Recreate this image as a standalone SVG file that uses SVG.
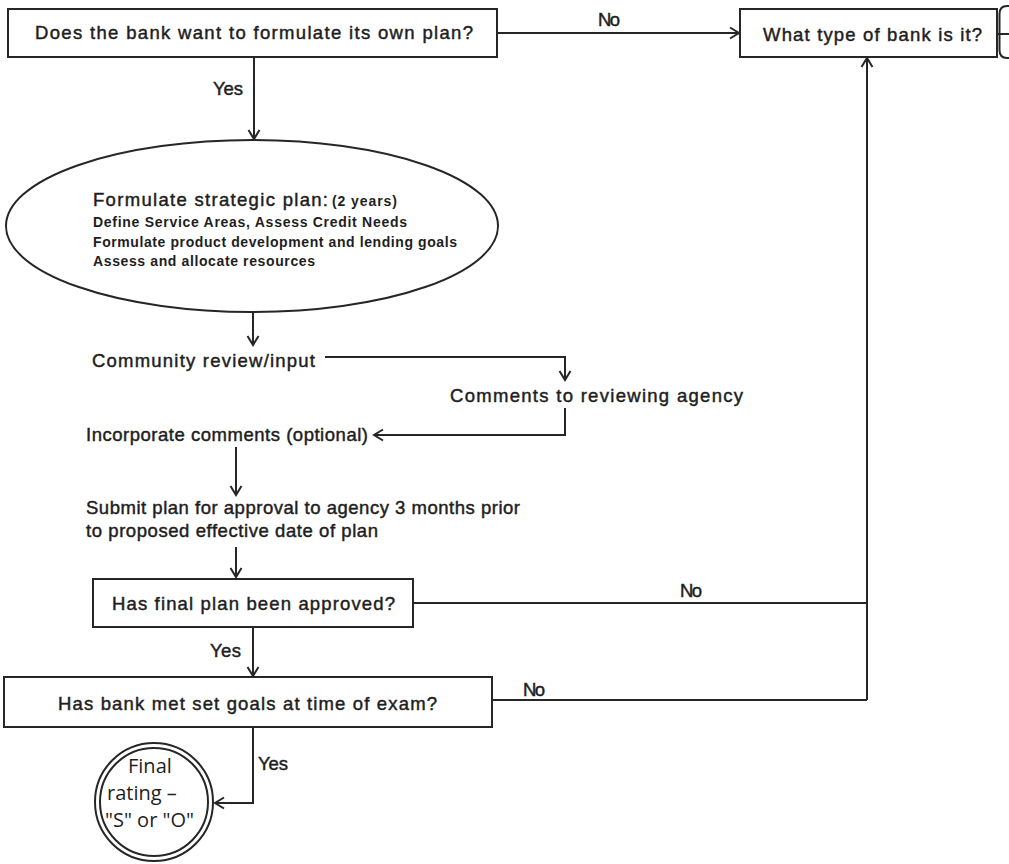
<svg xmlns="http://www.w3.org/2000/svg" width="1009" height="864" viewBox="0 0 1009 864">
  <style>
    .box { fill: #ffffff; stroke: #262626; stroke-width: 2; }
    .ln { fill: none; stroke: #262626; stroke-width: 2; }
    .arr { fill: none; stroke: #262626; stroke-width: 2; marker-end: url(#head); }
    .t { font-family: "Liberation Sans", Arial, sans-serif; font-size: 18.5px; fill: #1e1e1e; stroke: #1e1e1e; stroke-width: 0.45px; }
    .tb { font-family: "Liberation Sans", Arial, sans-serif; font-size: 14px; font-weight: bold; fill: #1e1e1e; }
    .tc { font-family: "Open Sans", "Liberation Sans", sans-serif; font-size: 20px; fill: #1e1e1e; }
  </style>
  <defs>
    <marker id="head" viewBox="-11 -7 13 14" refX="0" refY="0" markerWidth="13" markerHeight="14" markerUnits="userSpaceOnUse" orient="auto">
      <path d="M-9,-5.5 L0,0 L-9,5.5" fill="none" stroke="#262626" stroke-width="2"/>
    </marker>
  </defs>

  <rect width="1009" height="864" fill="#ffffff"/>

  <!-- connectors -->
  <g id="connectors">
    <!-- own plan? yes -->
    <line class="arr" x1="254" y1="57" x2="254" y2="139"/>
    <text class="t" x="213" y="95" textLength="30">Yes</text>
    <!-- own plan? no -->
    <line class="arr" x1="497" y1="33" x2="739" y2="33"/>
    <text class="t" x="598" y="26" textLength="22">No</text>
    <!-- strategic plan to community review -->
    <line class="arr" x1="253" y1="312" x2="253" y2="345"/>
    <!-- community review to agency -->
    <polyline class="arr" points="325,357 565,357 565,380"/>
    <!-- agency back to incorporate comments -->
    <polyline class="arr" points="565,408 565,435 374,435"/>
    <!-- incorporate to submit -->
    <line class="arr" x1="236" y1="447" x2="236" y2="495"/>
    <!-- submit to approval question -->
    <line class="arr" x1="236" y1="547" x2="236" y2="577"/>
    <!-- approved? no -->
    <line class="ln" x1="413" y1="603" x2="867" y2="603"/>
    <text class="t" x="680" y="597" textLength="22">No</text>
    <!-- approved? yes -->
    <line class="arr" x1="253" y1="627" x2="253" y2="676"/>
    <text class="t" x="210" y="657" textLength="31">Yes</text>
    <!-- goals met? no -->
    <polyline class="ln" points="492,700 867,700"/>
    <text class="t" x="523" y="696" textLength="22">No</text>
    <!-- return path up to bank type -->
    <line class="arr" x1="867" y1="700" x2="867" y2="58"/>
    <!-- goals met? yes -->
    <polyline class="arr" points="253,727 253,803 215,803"/>
    <text class="t" x="258" y="770" textLength="30">Yes</text>
  </g>

  <!-- decision: own plan -->
  <g id="own-plan">
    <rect class="box" x="8" y="9" width="489" height="48"/>
    <text class="t" x="35" y="39" textLength="438">Does the bank want to formulate its own plan?</text>
  </g>

  <!-- decision: bank type -->
  <g id="bank-type">
    <rect class="box" x="740" y="9" width="257" height="48"/>
    <text class="t" x="763" y="41" textLength="219">What type of bank is it?</text>
    <path class="ln" d="M1009,6 L1007,6 Q999.5,6 999.5,14 L999.5,50 Q999.5,58 1007,58 L1009,58"/>
    <line class="ln" x1="997" y1="34" x2="1009" y2="34"/>
  </g>

  <!-- strategic plan -->
  <g id="strategic-plan">
    <ellipse class="box" cx="252" cy="226" rx="246" ry="86"/>
    <text class="t" x="93" y="206" textLength="235">Formulate strategic plan:</text>
    <text class="tb" x="332" y="206" textLength="65" font-size="12.5">(2 years)</text>
    <text class="tb" x="93" y="227" textLength="314">Define Service Areas, Assess Credit Needs</text>
    <text class="tb" x="93" y="247" textLength="364">Formulate product development and lending goals</text>
    <text class="tb" x="93" y="266" textLength="222">Assess and allocate resources</text>
  </g>

  <!-- community review -->
  <g id="community-review">
    <text class="t" x="92" y="367" textLength="223">Community review/input</text>
  </g>

  <!-- comments to agency -->
  <g id="agency-comments">
    <text class="t" x="450" y="402" textLength="293">Comments to reviewing agency</text>
  </g>

  <!-- incorporate comments -->
  <g id="incorporate">
    <text class="t" x="86" y="441" textLength="282">Incorporate comments (optional)</text>
  </g>

  <!-- submit plan -->
  <g id="submit">
    <text class="t" x="86" y="514" textLength="434">Submit plan for approval to agency 3 months prior</text>
    <text class="t" x="86" y="537" textLength="292">to proposed effective date of plan</text>
  </g>

  <!-- decision: approved -->
  <g id="approved">
    <rect class="box" x="93" y="579" width="320" height="48"/>
    <text class="t" x="112" y="610" textLength="283">Has final plan been approved?</text>
  </g>

  <!-- decision: goals met -->
  <g id="goals-met">
    <rect class="box" x="4" y="677" width="488" height="50"/>
    <text class="t" x="58" y="710" textLength="379">Has bank met set goals at time of exam?</text>
  </g>

  <!-- final rating -->
  <g id="final-rating">
    <circle class="box" cx="154" cy="802" r="59"/>
    <circle class="ln" cx="154" cy="802" r="54"/>
    <text class="tc" x="128" y="773">Final</text>
    <text class="tc" x="107" y="800">rating –</text>
    <text class="tc" x="105" y="827">"S" or "O"</text>
  </g>
</svg>
